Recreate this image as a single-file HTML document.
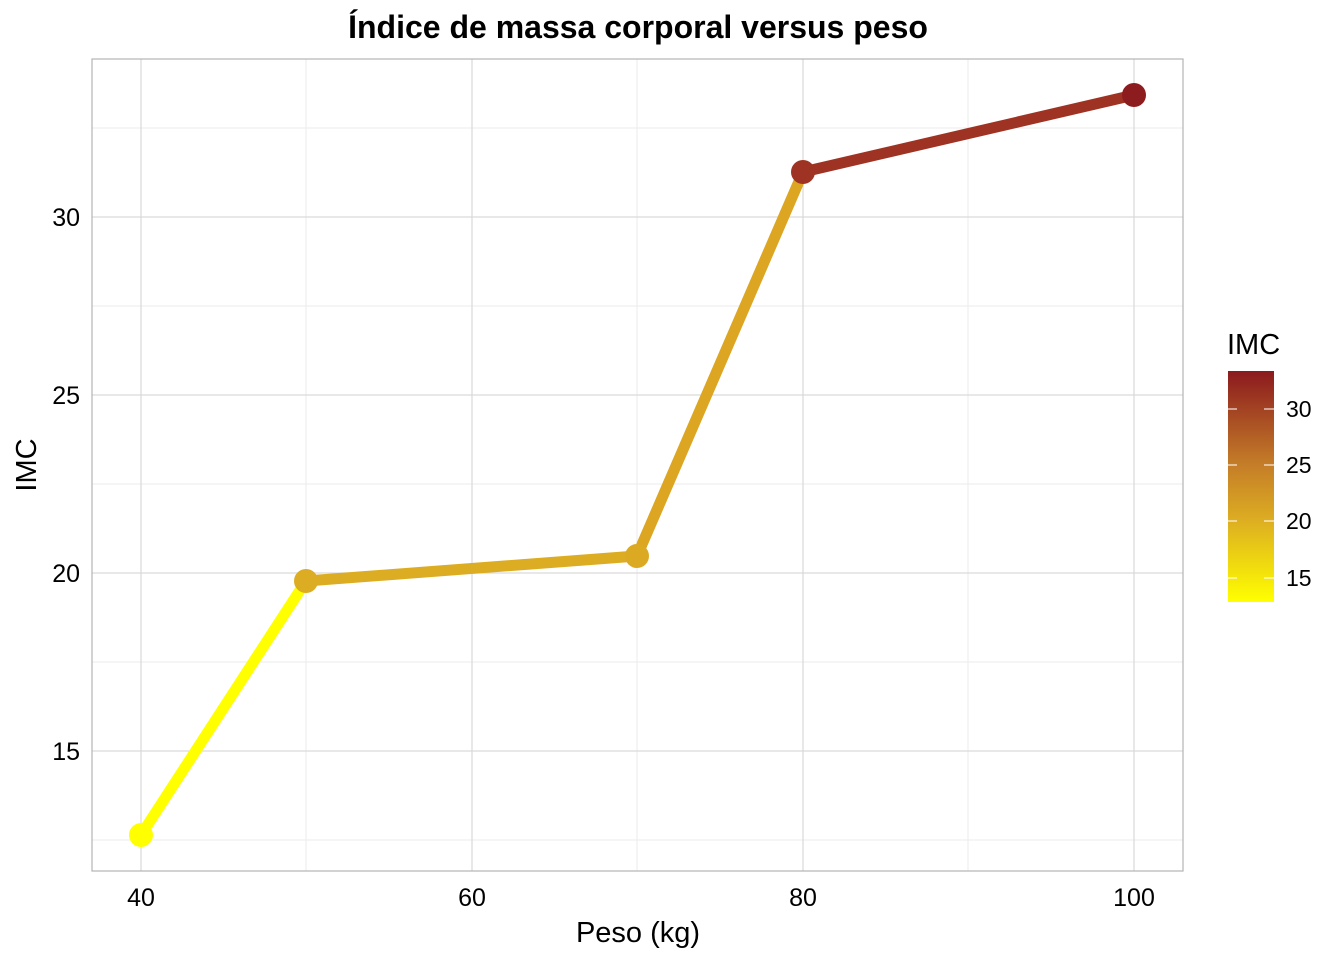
<!DOCTYPE html>
<html><head><meta charset="utf-8"><style>body{margin:0;background:#fff}svg{display:block}</style></head><body>
<svg width="1344" height="960" xmlns="http://www.w3.org/2000/svg" font-family="Liberation Sans, Arial, sans-serif">
<defs><linearGradient id="g" x1="0" y1="1" x2="0" y2="0">
<stop offset="0" stop-color="#ffff00"/><stop offset="0.36" stop-color="#dcac22"/><stop offset="0.6" stop-color="#c47c28"/><stop offset="1" stop-color="#8b1a1e"/></linearGradient></defs>
<rect width="1344" height="960" fill="#fff"/>
<g stroke="#ebebeb" stroke-width="1">
<line x1="92" x2="1183" y1="128" y2="128"/><line x1="92" x2="1183" y1="306" y2="306"/><line x1="92" x2="1183" y1="484" y2="484"/><line x1="92" x2="1183" y1="662" y2="662"/><line x1="92" x2="1183" y1="840" y2="840"/>
<line y1="59" y2="871" x1="306" x2="306"/><line y1="59" y2="871" x1="637" x2="637"/><line y1="59" y2="871" x1="968" x2="968"/>
</g>
<g stroke="#d9d9d9" stroke-width="1.2">
<line x1="92" x2="1183" y1="217" y2="217"/><line x1="92" x2="1183" y1="395" y2="395"/><line x1="92" x2="1183" y1="573" y2="573"/><line x1="92" x2="1183" y1="751" y2="751"/>
<line y1="59" y2="871" x1="141" x2="141"/><line y1="59" y2="871" x1="472" x2="472"/><line y1="59" y2="871" x1="803" x2="803"/><line y1="59" y2="871" x1="1134" x2="1134"/>
</g>
<rect x="92" y="59" width="1091" height="812" fill="none" stroke="#b3b3b3" stroke-width="1.2"/>
<g stroke-width="11" stroke-linecap="butt">
<line x1="141" y1="835" x2="306" y2="581" stroke="#ffff00"/>
<line x1="306" y1="581" x2="637" y2="556" stroke="#dcac22"/>
<line x1="637" y1="556" x2="803" y2="172" stroke="#dca522"/>
<line x1="803" y1="172" x2="1134" y2="95" stroke="#9e3323"/>
</g>
<circle cx="141" cy="835" r="12" fill="#ffff00"/>
<circle cx="306" cy="581" r="12" fill="#dcac22"/>
<circle cx="637" cy="556" r="12" fill="#dcaa22"/>
<circle cx="803" cy="172" r="12" fill="#9e3323"/>
<circle cx="1134" cy="95" r="12" fill="#8d1c1f"/>
<g font-size="25" fill="#000">
<text x="141" y="906" text-anchor="middle">40</text><text x="472" y="906" text-anchor="middle">60</text><text x="803" y="906" text-anchor="middle">80</text><text x="1134" y="906" text-anchor="middle">100</text>
<text x="80" y="226" text-anchor="end">30</text><text x="80" y="404" text-anchor="end">25</text><text x="80" y="582" text-anchor="end">20</text><text x="80" y="760" text-anchor="end">15</text>
</g>
<text x="638" y="942" text-anchor="middle" font-size="29">Peso (kg)</text>
<text transform="translate(36,465) rotate(-90)" text-anchor="middle" font-size="29">IMC</text>
<text x="638" y="38" text-anchor="middle" font-size="32" font-weight="bold">Índice de massa corporal versus peso</text>
<text x="1227" y="354" font-size="29">IMC</text>
<rect x="1228" y="371" width="46" height="231" fill="url(#g)"/>
<g stroke="#fff" stroke-opacity="0.7" stroke-width="1.5">
<line x1="1228" x2="1237" y1="409" y2="409"/><line x1="1264" x2="1274" y1="409" y2="409"/>
<line x1="1228" x2="1237" y1="465" y2="465"/><line x1="1264" x2="1274" y1="465" y2="465"/>
<line x1="1228" x2="1237" y1="521" y2="521"/><line x1="1264" x2="1274" y1="521" y2="521"/>
<line x1="1228" x2="1237" y1="578" y2="578"/><line x1="1264" x2="1274" y1="578" y2="578"/>
</g>
<g font-size="23" fill="#000">
<text x="1286" y="417">30</text><text x="1286" y="473">25</text><text x="1286" y="529">20</text><text x="1286" y="586">15</text>
</g>
</svg>
</body></html>
